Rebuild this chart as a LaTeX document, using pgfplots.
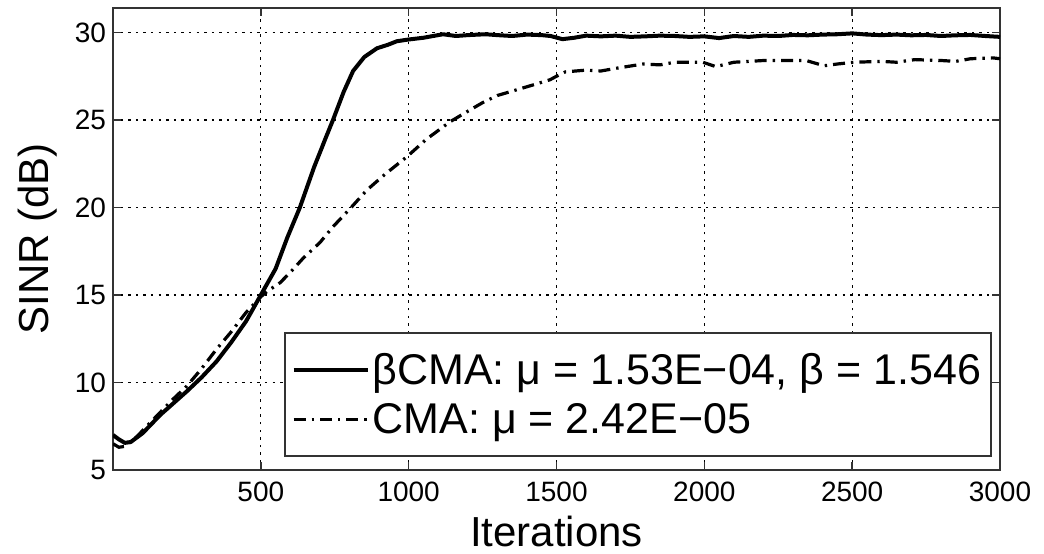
\documentclass[border=0pt]{standalone}
\usepackage{fontspec}
\setmainfont{Liberation Sans}
\usepackage{pgfplots}
\pgfplotsset{compat=1.18}

% SINR convergence
\pgfplotstableread{
x y
0 7.0
20 6.75
40 6.55
60 6.6
80 6.85
100 7.1
120 7.45
160 8.15
200 8.75
250 9.5
300 10.3
350 11.2
400 12.3
450 13.5
500 15.0
550 16.5
590 18.3
632 20.0
680 22.3
720 24.0
744 25.0
780 26.6
812 27.8
850 28.6
893 29.1
930 29.3
960 29.5
1000 29.6
1050 29.7
1116 29.9
1160 29.8
1200 29.85
1260 29.9
1300 29.85
1350 29.8
1400 29.88
1450 29.85
1480 29.8
1520 29.62
1560 29.7
1600 29.82
1650 29.78
1700 29.82
1750 29.75
1800 29.78
1850 29.82
1900 29.8
1950 29.75
2000 29.78
2050 29.68
2100 29.8
2150 29.75
2200 29.82
2250 29.8
2300 29.86
2350 29.84
2400 29.88
2450 29.9
2500 29.95
2550 29.88
2600 29.85
2650 29.88
2700 29.84
2750 29.86
2800 29.8
2850 29.84
2900 29.86
2950 29.8
3000 29.75
}\bcma

\pgfplotstableread{
x y
0 6.5
20 6.3
40 6.35
80 6.9
120 7.6
160 8.3
200 9.0
250 9.8
300 10.8
350 11.9
400 12.9
450 14.0
500 14.9
521 15.2
565 15.7
600 16.3
643 17.1
700 18.0
744 18.9
800 19.9
859 21.0
920 21.9
994 22.9
1060 23.9
1140 24.9
1200 25.5
1251 26.0
1300 26.4
1360 26.7
1420 27.0
1478 27.3
1500 27.5
1530 27.75
1600 27.85
1650 27.8
1700 27.95
1793 28.2
1850 28.15
1900 28.3
1995 28.3
2039 28.05
2100 28.3
2150 28.35
2202 28.4
2300 28.4
2344 28.4
2405 28.1
2450 28.2
2506 28.3
2600 28.35
2650 28.3
2712 28.45
2800 28.4
2850 28.35
2900 28.5
2976 28.55
3000 28.5
}\cma

\begin{document}
\begin{tikzpicture}
\begin{axis}[
    scale only axis,
    width=443.5pt,
    height=231pt,
    xmin=0, xmax=3000,
    ymin=5, ymax=31.4,
    xtick={500,1000,...,3000},
    ytick={5,10,...,30},
    /pgf/number format/assume math mode=true,
    /pgf/number format/set thousands separator={},
    tick label style={font=\fontsize{14}{16}\selectfont},
    xticklabel style={yshift=-2.5pt},
    xlabel={Iterations},
    ylabel={SINR (dB)},
    label style={font=\fontsize{21}{25}\selectfont},
    xlabel style={at={(axis description cs:0.5,0)}, anchor=center, yshift=-30.5pt},
    ylabel style={at={(axis description cs:0,0.5)}, anchor=center, yshift=37.5pt},
    axis line style={black!80, line width=0.9pt},
    tick align=inside,
    major tick length=4pt,
    tick style={black!80, line width=0.7pt},
    xtick pos=both, ytick pos=both,
    grid=major,
    major grid style={black, line width=0.6pt, dash pattern=on 1.2pt off 2.6pt},
    legend style={
        at={(rel axis cs:0.991,0.028)}, anchor=south east,
        draw=black!80, line width=0.9pt, fill=white,
        font=\fontsize{21.5}{25}\selectfont,
        inner xsep=3.5pt, inner ysep=8pt,
        nodes={inner xsep=1.5pt},
        row sep=4pt,
    },
    legend cell align=left,
    legend image code/.code={\draw[#1] (0pt,0pt) -- (37pt,0pt);},
]
\addplot[black, line width=2pt, line join=round] table {\bcma};
\addlegendentry{βCMA: μ = 1.53E−04, β = 1.546}
\addplot[black, line width=1.6pt, dash pattern=on 6pt off 3pt on 1.2pt off 3pt] table {\cma};
\addlegendentry{CMA: μ = 2.42E−05}
\end{axis}
\pgfresetboundingbox
\path[use as bounding box] ([shift={(-56.5pt,-41.5pt)}]current axis.south west) rectangle ([shift={(22pt,4pt)}]current axis.north east);
\end{tikzpicture}
\end{document}
